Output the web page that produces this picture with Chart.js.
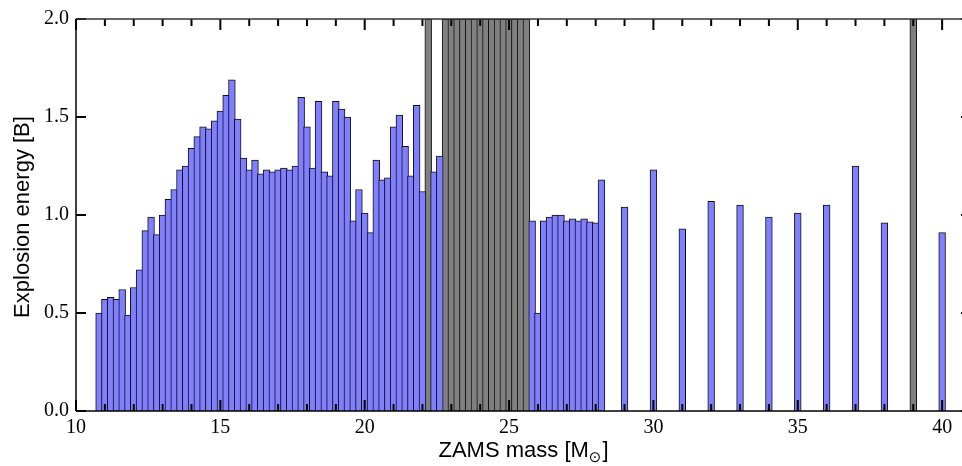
<!DOCTYPE html>
<html>
<head>
<meta charset="utf-8">
<script src="https://cdn.jsdelivr.net/npm/chart.js@4.4.0/dist/chart.umd.min.js"></script>
<style>
  html, body { margin: 0; padding: 0; background: #fff; overflow: hidden; }
  #wrap { width: 981px; height: 466px; }
</style>
</head>
<body>
<div id="wrap"><canvas id="explosion_energy" width="981" height="466"></canvas></div>
<script>
// ZAMS masses of the models (solar masses)
var masses = [
  10.8, 11.0, 11.2, 11.4, 11.6, 11.8, 12.0, 12.2, 12.4, 12.6,
  12.8, 13.0, 13.2, 13.4, 13.6, 13.8, 14.0, 14.2, 14.4, 14.6,
  14.8, 15.0, 15.2, 15.4, 15.6, 15.8, 16.0, 16.2, 16.4, 16.6,
  16.8, 17.0, 17.2, 17.4, 17.6, 17.8, 18.0, 18.2, 18.4, 18.6,
  18.8, 19.0, 19.2, 19.4, 19.6, 19.8, 20.0, 20.2, 20.4, 20.6,
  20.8, 21.0, 21.2, 21.4, 21.6, 21.8, 22.0, 22.2, 22.4, 22.6,
  22.8, 23.0, 23.2, 23.4, 23.6, 23.8, 24.0, 24.2, 24.4, 24.6,
  24.8, 25.0, 25.2, 25.4, 25.6, 25.8, 26.0, 26.2, 26.4, 26.6,
  26.8, 27.0, 27.2, 27.4, 27.6, 27.8, 28.0, 28.2, 29, 30,
  31, 32, 33, 34, 35, 36, 37, 38, 39, 40
];

// explosion energy in Bethe; null = no explosion (grey bar, off the scale)
var energy = [
  0.50, 0.57, 0.58, 0.57, 0.62, 0.49, 0.63, 0.72, 0.92, 0.99,
  0.90, 1.00, 1.08, 1.13, 1.23, 1.25, 1.34, 1.40, 1.45, 1.44,
  1.48, 1.53, 1.61, 1.69, 1.49, 1.29, 1.23, 1.28, 1.21, 1.23,
  1.22, 1.23, 1.24, 1.23, 1.25, 1.60, 1.45, 1.24, 1.58, 1.22,
  1.20, 1.58, 1.54, 1.50, 0.97, 1.13, 1.01, 0.91, 1.28, 1.18,
  1.19, 1.45, 1.51, 1.35, 1.20, 1.56, 1.12, null, 1.22, 1.30,
  null, null, null, null, null, null, null, null, null, null,
  null, null, null, null, null, 0.97, 0.50, 0.97, 0.99, 1.00,
  1.00, 0.97, 0.98, 0.97, 0.98, 0.965, 0.96, 1.18, 1.04, 1.23,
  0.93, 1.07, 1.05, 0.99, 1.01, 1.05, 1.25, 0.96, null, 0.91
];

var xTicks = [10, 15, 20, 25, 30, 35, 40];
var yTicks = [0.0, 0.5, 1.0, 1.5, 2.0];
var xMin = 10, xMax = 41;
var yMin = 0, yMax = 2;

var exploded = [], failed = [];
for (var i = 0; i < masses.length; i++) {
  if (energy[i] === null) failed.push({x: masses[i], y: yMax});
  else exploded.push({x: masses[i], y: energy[i]});
}

function line(ctx, x1, y1, x2, y2) {
  ctx.beginPath();
  ctx.moveTo(x1, y1);
  ctx.lineTo(x2, y2);
  ctx.stroke();
}

// frame with inward ticks, matplotlib style
var framePlugin = {
  id: 'frame',
  afterDatasetsDraw: function(chart) {
    var ctx = chart.ctx, a = chart.chartArea;
    var xs = chart.scales.x, ys = chart.scales.y;
    ctx.save();
    ctx.strokeStyle = '#000';
    ctx.lineWidth = 2;
    for (var m = xMin; m <= xMax; m++) {
      var px = xs.getPixelForValue(m);
      var len = (m % 5 === 0) ? 11 : 7;
      line(ctx, px, a.bottom, px, a.bottom - len);
      line(ctx, px, a.top, px, a.top + len);
    }
    yTicks.forEach(function(v) {
      var py = ys.getPixelForValue(v);
      line(ctx, a.left, py, a.left + 10, py);
      line(ctx, a.right, py, a.right - 10, py);
    });
    ctx.lineWidth = 1.5;
    ctx.strokeStyle = '#333';
    line(ctx, a.left, a.top, a.right, a.top);
    line(ctx, a.right, a.top, a.right, a.bottom);
    ctx.strokeStyle = '#000';
    line(ctx, a.left, a.top, a.left, a.bottom);
    line(ctx, a.left, a.bottom, a.right, a.bottom);
    ctx.restore();
  },
  afterDraw: function(chart) {
    var ctx = chart.ctx, a = chart.chartArea;
    ctx.save();
    ctx.fillStyle = '#000';
    ctx.textBaseline = 'alphabetic';
    // x title with subscript sun symbol
    var big = '22px "Liberation Sans", Arial, sans-serif';
    var small = '15px "DejaVu Sans", sans-serif';
    var t1 = 'ZAMS mass [M', t2 = '\u2299', t3 = ']';
    ctx.font = big;
    var w1 = ctx.measureText(t1).width, w3 = ctx.measureText(t3).width;
    ctx.font = small;
    var w2 = ctx.measureText(t2).width;
    var x0 = (a.left + a.right) / 2 - (w1 + w2 + w3 + 1) / 2;
    var base = 457;
    ctx.textAlign = 'left';
    ctx.font = big;
    ctx.fillText(t1, x0, base);
    ctx.font = small;
    ctx.fillText(t2, x0 + w1, base + 5);
    ctx.font = big;
    ctx.fillText(t3, x0 + w1 + w2 + 1, base);
    // y title
    ctx.translate(29, (a.top + a.bottom) / 2 + 2);
    ctx.rotate(-Math.PI / 2);
    ctx.textAlign = 'center';
    ctx.fillText('Explosion energy [B]', 0, 0);
    ctx.restore();
  }
};

var barWidth = 6.77;

new Chart(document.getElementById('explosion_energy').getContext('2d'), {
  type: 'bar',
  data: {
    datasets: [{
      label: 'exploded',
      data: exploded,
      backgroundColor: '#7f7fff',
      borderColor: '#111',
      borderWidth: 1,
      barThickness: barWidth,
      grouped: false
    }, {
      label: 'no explosion',
      data: failed,
      backgroundColor: '#808080',
      borderColor: '#111',
      borderWidth: 1,
      barThickness: barWidth,
      grouped: false
    }]
  },
  options: {
    responsive: false,
    animation: false,
    devicePixelRatio: 1,
    layout: { padding: { top: 16, right: 10, left: 0, bottom: 0 } },
    plugins: {
      legend: { display: false },
      tooltip: { enabled: false }
    },
    scales: {
      x: {
        type: 'linear',
        min: xMin,
        max: xMax,
        offset: false,
        grid: { display: false, drawTicks: false },
        border: { display: false },
        afterBuildTicks: function(s) { s.ticks = xTicks.map(function(v) { return {value: v}; }); },
        afterFit: function(s) { s.height = 55; },
        ticks: {
          padding: 5,
          maxRotation: 0,
          color: '#000',
          font: { family: '"Liberation Serif", "Times New Roman", serif', size: 20 },
          callback: function(v) { return String(v); }
        }
      },
      y: {
        min: yMin,
        max: yMax,
        grid: { display: false, drawTicks: false },
        border: { display: false },
        afterBuildTicks: function(s) { s.ticks = yTicks.map(function(v) { return {value: v}; }); },
        afterFit: function(s) { s.width = 76; },
        ticks: {
          padding: 7,
          color: '#000',
          font: { family: '"Liberation Serif", "Times New Roman", serif', size: 20 },
          callback: function(v) { return v.toFixed(1); }
        }
      }
    }
  },
  plugins: [framePlugin]
});
</script>
</body>
</html>
